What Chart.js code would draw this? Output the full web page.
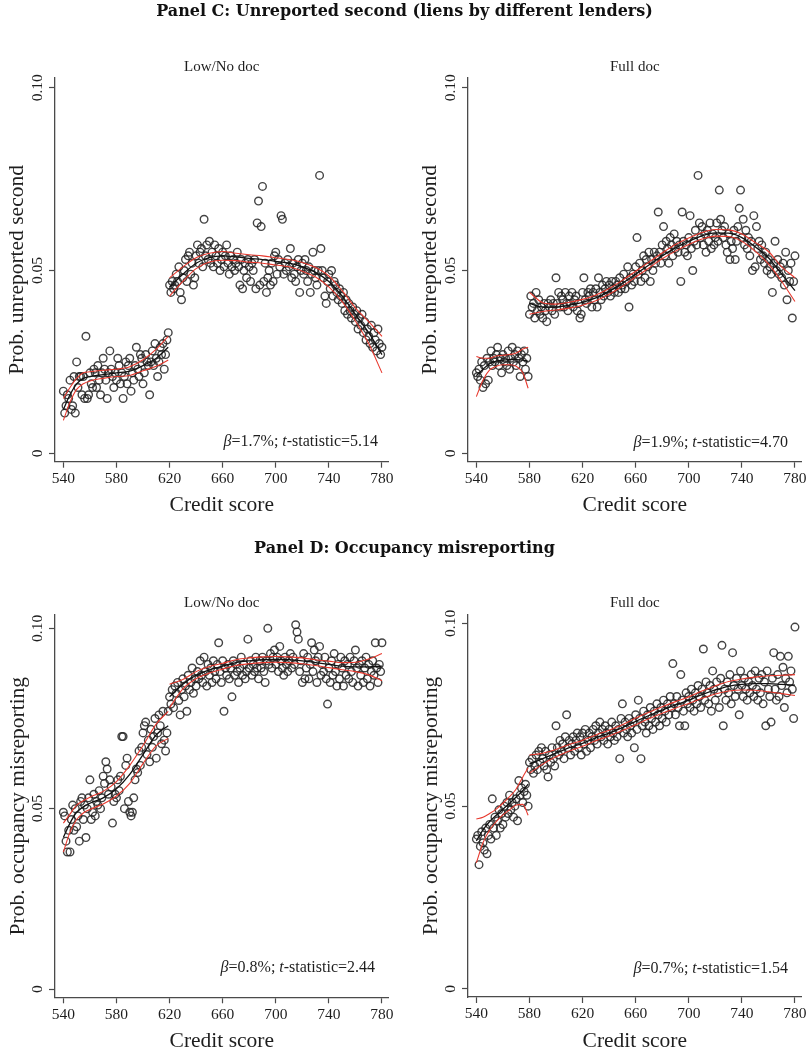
<!DOCTYPE html>
<html>
<head>
<meta charset="utf-8">
<script src="https://cdn.jsdelivr.net/npm/chart.js@4.4.0/dist/chart.umd.min.js"></script>
<style>
  body { margin: 0; background: #fff; }
  #wrap { position: relative; width: 809px; height: 1051px; overflow: hidden; }
  canvas { position: absolute; }
  .panel-title { position: absolute; left: 0; width: 809px; text-align: center; font: bold 16px/16px "DejaVu Serif", serif; color: #111; }
</style>
</head>
<body>
<div id="wrap">
  <canvas id="cLow" width="405" height="525" style="left:0;top:0"></canvas>
  <canvas id="cFull" width="404" height="525" style="left:405px;top:0"></canvas>
  <canvas id="dLow" width="405" height="526" style="left:0;top:525px"></canvas>
  <canvas id="dFull" width="404" height="526" style="left:405px;top:525px"></canvas>
  <div class="panel-title" style="top:3px">Panel C: Unreported second (liens by different lenders)</div>
  <div class="panel-title" style="top:540px">Panel D: Occupancy misreporting</div>
</div>
<script>
// scores run 540..780, one bin per point
const scoreStart = 540;
const xTicks = [540, 580, 620, 660, 700, 740, 780];
const yTicks = [0, 0.05, 0.10];
const yTickLabels = ['0', '0.05', '0.10'];

// Panel C, Low/No doc (cutoff 620)
const unrepLowDoc = [
  .017,.011,.013,.016,.015,.020,.012,.013,.021,.011,
  .025,.018,.021,.021,.016,.021,.015,.032,.015,.016,
  .022,.019,.018,.023,.022,.018,.024,.020,.016,.022,
  .026,.023,.020,.015,.022,.028,.023,.021,.018,.022,
  .020,.026,.024,.019,.022,.015,.021,.025,.019,.024,
  .026,.017,.022,.020,.024,.029,.023,.021,.027,.026,
  .019,.022,.027,.025,.024,.016,.025,.028,.024,.030,
  .026,.021,.025,.029,.027,.030,.023,.027,.031,.033,
  .046,.044,.047,.045,.046,.049,.047,.051,.044,.042,
  .048,.050,.053,.047,.054,.055,.049,.052,.046,.048,
  .054,.057,.052,.055,.056,.051,.064,.054,.057,.053,
  .058,.052,.055,.051,.057,.054,.052,.056,.050,.053,
  .055,.051,.054,.057,.052,.049,.054,.051,.053,.050,
  .052,.055,.051,.046,.053,.045,.050,.052,.048,.053,
  .051,.047,.052,.050,.053,.045,.063,.069,.046,.062,
  .073,.047,.052,.044,.048,.050,.046,.052,.047,.054,
  .055,.049,.053,.051,.065,.064,.049,.052,.050,.053,
  .051,.056,.048,.052,.049,.047,.051,.053,.044,.050,
  .052,.049,.053,.050,.047,.051,.044,.049,.055,.050,
  .048,.046,.050,.076,.056,.050,.048,.043,.041,.047,
  .049,.045,.050,.043,.047,.046,.044,.042,.045,.043,
  .041,.044,.039,.042,.038,.041,.039,.037,.040,.038,
  .036,.039,.034,.037,.035,.038,.033,.036,.031,.034,
  .032,.030,.035,.029,.033,.031,.028,.034,.030,.027,.029
];
const unrepLowFitX = [540, 545, 550, 555, 560, 570, 580, 590, 600, 610, 619,
  620, 630, 640, 650, 660, 670, 680, 690, 700, 710, 720, 730, 740, 750, 760, 770, 780];
const unrepLowFit = [.012, .016, .019, .0205, .021, .0215, .022, .0225, .024, .026, .029,
  .0455, .049, .052, .0535, .054, .0537, .0533, .053, .0525, .052, .051, .0495, .047, .043, .038, .033, .027];
const unrepLowLo = [.009, .014, .0175, .019, .0198, .0205, .021, .0213, .0226, .0238, .0255,
  .043, .047, .0505, .0523, .0528, .0527, .0523, .052, .0515, .051, .0498, .0482, .0455, .0415, .0362, .030, .022];
const unrepLowHi = [.015, .018, .0205, .022, .0223, .0227, .023, .0237, .0256, .0285, .032,
  .048, .051, .0535, .0547, .0552, .0547, .0543, .054, .0535, .053, .0522, .0508, .0485, .0445, .0398, .036, .032];

// Panel C, Full doc (cutoff 580)
const unrepFullDoc = [
  .022,.021,.023,.020,.025,.018,.024,.019,.026,.020,
  .025,.028,.024,.026,.025,.027,.029,.024,.026,.022,
  .027,.025,.026,.024,.028,.023,.026,.029,.025,.027,
  .024,.028,.026,.021,.027,.025,.028,.023,.026,.021,
  .038,.043,.040,.041,.037,.044,.039,.042,.038,.040,
  .037,.041,.039,.036,.041,.040,.042,.039,.041,.038,
  .048,.041,.044,.040,.043,.042,.040,.044,.041,.039,
  .043,.041,.044,.040,.042,.043,.039,.041,.037,.038,
  .044,.048,.042,.041,.044,.043,.045,.040,.044,.042,
  .045,.040,.048,.044,.042,.046,.043,.045,.047,.044,
  .046,.043,.047,.045,.044,.047,.046,.044,.048,.045,
  .046,.049,.045,.047,.051,.040,.048,.046,.049,.047,
  .051,.059,.049,.052,.047,.050,.054,.048,.053,.051,
  .055,.047,.053,.050,.055,.052,.054,.066,.055,.052,
  .057,.062,.054,.058,.056,.052,.059,.057,.054,.060,
  .056,.058,.055,.057,.047,.066,.058,.055,.057,.054,
  .059,.065,.056,.050,.058,.061,.057,.076,.063,.059,
  .062,.057,.060,.055,.061,.058,.063,.056,.060,.057,
  .059,.063,.058,.072,.064,.061,.059,.062,.057,.055,
  .060,.053,.058,.056,.061,.053,.058,.062,.067,.072,
  .059,.064,.057,.061,.056,.059,.054,.058,.050,.065,
  .051,.062,.056,.058,.053,.057,.054,.052,.055,.050,
  .053,.051,.049,.044,.052,.058,.050,.053,.049,.051,
  .048,.052,.046,.055,.042,.050,.047,.052,.037,.047,.054
];
const fullFitX = [540, 545, 550, 555, 560, 565, 570, 575, 579,
  580, 590, 600, 610, 620, 630, 640, 650, 660, 670, 680, 690, 700, 710, 720, 730, 740, 750, 760, 770, 780];
const unrepFullFit = [.0212, .023, .0245, .0252, .0255, .0256, .0256, .0255, .0252,
  .041, .040, .040, .0405, .0413, .0425, .0443, .0465, .049, .0515, .054, .0562, .058, .0595, .0603, .0602, .059, .0565, .0535, .049, .0445];
const unrepFullLo = [.0155, .020, .0228, .0238, .0242, .0242, .0238, .022, .0178,
  .038, .0388, .0392, .0397, .0405, .0417, .0435, .0457, .0482, .0507, .0532, .0553, .0571, .0586, .0594, .0593, .058, .0553, .0518, .047, .0415];
const unrepFullHi = [.0265, .026, .026, .0266, .0268, .027, .0274, .0285, .029,
  .044, .0412, .0408, .0413, .0421, .0433, .0451, .0473, .0498, .0523, .0548, .0571, .0589, .0604, .0612, .0611, .060, .0577, .0552, .051, .048];

// Panel D, Low/No doc (cutoff 620)
const occLowDoc = [
  .049,.048,.041,.038,.044,.038,.047,.051,.044,.050,
  .045,.048,.041,.052,.053,.047,.051,.042,.050,.053,
  .058,.047,.049,.054,.048,.052,.051,.055,.050,.053,
  .059,.057,.063,.061,.054,.058,.056,.046,.052,.054,
  .053,.058,.055,.059,.070,.070,.050,.062,.064,.052,
  .049,.048,.049,.053,.058,.061,.060,.066,.062,.067,
  .071,.073,.074,.065,.069,.063,.072,.067,.070,.075,
  .064,.071,.076,.073,.068,.077,.069,.066,.071,.077,
  .081,.079,.083,.078,.084,.082,.085,.080,.076,.083,
  .086,.081,.084,.077,.087,.083,.085,.089,.082,.086,
  .084,.088,.086,.091,.087,.085,.092,.088,.084,.090,
  .087,.089,.085,.091,.088,.086,.090,.096,.088,.085,
  .091,.077,.089,.087,.090,.086,.089,.081,.091,.087,
  .090,.088,.085,.089,.092,.087,.090,.086,.088,.097,
  .089,.091,.087,.090,.088,.092,.089,.086,.091,.089,
  .092,.088,.085,.091,.100,.090,.093,.089,.092,.094,
  .090,.092,.088,.095,.091,.089,.087,.092,.090,.088,
  .091,.093,.089,.092,.090,.101,.099,.097,.088,.091,
  .085,.093,.086,.089,.092,.086,.090,.096,.088,.094,
  .091,.085,.092,.095,.087,.090,.088,.092,.086,.079,
  .089,.085,.091,.087,.093,.088,.084,.090,.086,.092,
  .089,.084,.091,.087,.090,.086,.092,.088,.085,.091,
  .094,.089,.084,.090,.087,.091,.085,.089,.092,.086,
  .090,.084,.088,.091,.087,.096,.089,.085,.090,.088,.096
];
const occLowFit = [.042, .046, .049, .0505, .0515, .053, .0555, .0595, .065, .0705, .073,
  .081, .0845, .087, .0885, .0895, .0905, .091, .0913, .0914, .0913, .091, .0905, .090, .0895, .0893, .0893, .0895];
const occLowLo = [.038, .0435, .047, .0488, .0498, .0513, .0535, .057, .0625, .0675, .0695,
  .078, .0832, .086, .0876, .0887, .0897, .0902, .0905, .0906, .0905, .0902, .0897, .0891, .0885, .088, .0871, .0855];
const occLowHi = [.046, .0485, .051, .0522, .0532, .0548, .0575, .062, .0675, .0735, .077,
  .0845, .0858, .088, .0894, .0903, .0913, .0918, .0921, .0922, .0921, .0918, .0913, .0909, .0905, .0906, .0915, .093];

// Panel D, Full doc (cutoff 580)
const occFullDoc = [
  .041,.042,.034,.039,.043,.040,.038,.044,.037,.042,
  .045,.041,.052,.044,.047,.042,.046,.049,.044,.048,
  .045,.050,.047,.051,.048,.053,.049,.051,.047,.050,
  .052,.046,.057,.053,.055,.051,.054,.056,.053,.050,
  .062,.060,.063,.059,.061,.064,.060,.065,.062,.066,
  .063,.061,.065,.060,.058,.064,.062,.066,.063,.061,
  .072,.066,.064,.068,.065,.067,.063,.069,.075,.066,
  .068,.064,.067,.069,.065,.068,.070,.066,.069,.064,
  .070,.067,.071,.065,.068,.070,.066,.069,.071,.068,
  .072,.067,.070,.073,.069,.071,.068,.072,.070,.067,
  .071,.069,.073,.070,.068,.072,.069,.071,.063,.074,
  .078,.070,.073,.071,.069,.074,.072,.070,.073,.066,
  .075,.071,.079,.074,.063,.072,.076,.073,.070,.075,
  .072,.077,.074,.071,.076,.073,.078,.075,.072,.077,
  .074,.079,.076,.073,.078,.075,.080,.077,.089,.078,
  .075,.080,.077,.072,.086,.079,.076,.072,.081,.078,
  .080,.077,.082,.079,.076,.081,.078,.083,.080,.077,
  .082,.093,.079,.084,.081,.078,.083,.076,.087,.082,
  .079,.084,.081,.077,.085,.094,.072,.082,.079,.084,
  .081,.086,.078,.092,.083,.080,.085,.082,.075,.087,
  .083,.080,.085,.082,.079,.084,.081,.086,.083,.080,
  .087,.082,.079,.085,.081,.086,.078,.084,.072,.087,
  .082,.080,.073,.085,.092,.082,.079,.086,.080,.091,
  .083,.088,.077,.085,.081,.091,.084,.087,.082,.074,.099
];
const occFullFit = [.0405, .0435, .0458, .0475, .0492, .0508, .0525, .0543, .056,
  .0615, .063, .0645, .066, .0672, .0687, .070, .0715, .0732, .0748, .0763, .0777, .079, .0805, .0818, .0828, .0833, .0835, .0835, .0833, .0831];
const occFullLo = [.0345, .040, .0435, .0458, .0476, .049, .0503, .0505, .0475,
  .059, .0615, .0635, .0651, .0664, .0679, .0692, .0707, .0723, .0739, .0754, .0768, .0781, .0795, .0807, .0815, .0818, .0817, .0813, .0808, .0803];
const occFullHi = [.0465, .047, .048, .0492, .0508, .0526, .0547, .058, .0605,
  .064, .0645, .0655, .0669, .068, .0695, .0708, .0723, .0741, .0757, .0772, .0786, .0799, .0815, .0829, .0841, .0848, .0853, .0857, .0858, .086];

const betas = ['1.7%', '1.9%', '0.8%', '0.7%'];
const tStats = ['5.14', '4.70', '2.44', '1.54'];

const serif = '"Liberation Serif", "Times New Roman", serif';
const axisColor = '#4a4a4a';
const textColor = '#1e1e1e';
const redLine = '#e8392e';
const xBoxH = 34; // height reserved for the x tick labels (labels are clipped to it)

function scatterPts(vals) {
  return vals.map((v, i) => ({ x: scoreStart + i, y: v }));
}

// split a fitted curve at the cutoff so the two sides are drawn separately
function fitSets(xs, ys, cut, color, width) {
  const below = [], above = [];
  xs.forEach((x, i) => (x < cut ? below : above).push({ x: x, y: ys[i] }));
  return [below, above].map(d => ({
    data: d, showLine: true, pointRadius: 0, borderColor: color, borderWidth: width,
    cubicInterpolationMode: 'monotone', order: 0
  }));
}

const framePlugin = {
  id: 'frame',
  afterDraw(chart, args, o) {
    const { ctx, chartArea: a, scales: { y } } = chart;
    const cx = (a.left + a.right) / 2;
    ctx.save();
    ctx.fillStyle = textColor;
    ctx.textAlign = 'center';
    ctx.textBaseline = 'middle';

    // y tick labels, rotated like Stata's
    ctx.font = '15.5px ' + serif;
    yTicks.forEach((v, i) => {
      ctx.save();
      ctx.translate(a.left - 17, y.getPixelForValue(v));
      ctx.rotate(-Math.PI / 2);
      ctx.fillText(yTickLabels[i], 0, 0);
      ctx.restore();
    });

    // y title
    ctx.font = '21.5px ' + serif;
    ctx.save();
    ctx.translate(o.titleX, (a.top + a.bottom) / 2);
    ctx.rotate(-Math.PI / 2);
    ctx.fillText(o.yTitle, 0, 0);
    ctx.restore();

    // x title
    ctx.fillText('Credit score', cx, a.bottom + 44);

    // subtitle
    ctx.font = '15px ' + serif;
    ctx.fillText(o.sub, cx, o.subY);

    // beta / t-statistic note
    const parts = [
      ['\u03b2', 'italic 16px ' + serif],
      ['=' + o.beta + '; ', '16px ' + serif],
      ['t', 'italic 16px ' + serif],
      ['-statistic=' + o.t, '16px ' + serif]
    ];
    let total = 0;
    parts.forEach(p => { ctx.font = p[1]; total += ctx.measureText(p[0]).width; });
    let x = o.noteRight - total;
    ctx.textAlign = 'left';
    parts.forEach(p => {
      ctx.font = p[1];
      ctx.fillText(p[0], x, o.noteY);
      x += ctx.measureText(p[0]).width;
    });
    ctx.restore();
  }
};

function makePanel(id, area, yRange, vals, fitX, fit, lo, hi, cut, opts) {
  const cv = document.getElementById(id);
  const W = cv.width, H = cv.height;
  const datasets = [].concat(
    fitSets(fitX, fit, cut, '#111', 1.3),
    fitSets(fitX, lo, cut, redLine, 1.1),
    fitSets(fitX, hi, cut, redLine, 1.1),
    [{
      data: scatterPts(vals), showLine: false, order: 1,
      pointStyle: 'circle', pointRadius: 3.8, pointBorderWidth: 1.4,
      pointBorderColor: 'rgba(35,35,35,0.85)', pointBackgroundColor: 'rgba(0,0,0,0)'
    }]
  );
  return new Chart(cv, {
    type: 'scatter',
    data: { datasets: datasets },
    options: {
      responsive: false,
      animation: false,
      layout: { padding: { left: area[0] - 10, top: area[1], right: W - area[2], bottom: H - area[3] - xBoxH } },
      plugins: { legend: { display: false }, tooltip: { enabled: false }, frame: opts },
      scales: {
        x: {
          type: 'linear', min: 533.7, max: 785,
          afterFit: s => { s.height = xBoxH; },
          afterBuildTicks: s => { s.ticks = xTicks.map(v => ({ value: v })); },
          grid: { drawOnChartArea: false, drawTicks: true, tickLength: 6, color: axisColor, tickWidth: 1.2 },
          border: { color: axisColor, width: 1.3 },
          ticks: { color: textColor, font: { family: serif, size: 15.5 }, padding: 2, maxRotation: 0, autoSkip: false, callback: v => String(v) }
        },
        y: {
          type: 'linear', min: yRange[0], max: yRange[1],
          afterFit: s => { s.width = 10; },
          afterBuildTicks: s => { s.ticks = yTicks.map(v => ({ value: v })); },
          grid: { drawOnChartArea: false, drawTicks: true, tickLength: 6, color: axisColor, tickWidth: 1.2 },
          border: { color: axisColor, width: 1.3 },
          ticks: { callback: () => '' }
        }
      }
    },
    plugins: [framePlugin]
  });
}

makePanel('cLow', [55, 78, 388.6, 461.7], [-0.0023, 0.10265], unrepLowDoc,
  unrepLowFitX, unrepLowFit, unrepLowLo, unrepLowHi, 620,
  { yTitle: 'Prob. unreported second', titleX: 17, sub: 'Low/No doc', subY: 67,
    beta: betas[0], t: tStats[0], noteRight: 378, noteY: 442 });

makePanel('cFull', [63, 78, 396.6, 461.7], [-0.0023, 0.10265], unrepFullDoc,
  fullFitX, unrepFullFit, unrepFullLo, unrepFullHi, 580,
  { yTitle: 'Prob. unreported second', titleX: 25, sub: 'Full doc', subY: 67,
    beta: betas[1], t: tStats[1], noteRight: 383, noteY: 443 });

makePanel('dLow', [55, 90, 388.6, 472.3], [-0.0023, 0.1037], occLowDoc,
  unrepLowFitX, occLowFit, occLowLo, occLowHi, 620,
  { yTitle: 'Prob. occupancy misreporting', titleX: 18, sub: 'Low/No doc', subY: 78,
    beta: betas[2], t: tStats[2], noteRight: 375, noteY: 443 });

makePanel('dFull', [63, 90, 396.6, 472], [-0.0022, 0.1023], occFullDoc,
  fullFitX, occFullFit, occFullLo, occFullHi, 580,
  { yTitle: 'Prob. occupancy misreporting', titleX: 26, sub: 'Full doc', subY: 78,
    beta: betas[3], t: tStats[3], noteRight: 383, noteY: 444 });
</script>
</body>
</html>
